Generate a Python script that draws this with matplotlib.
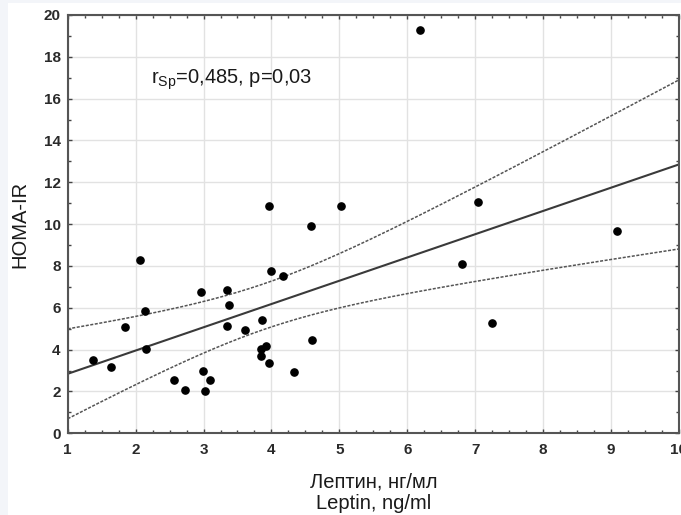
import numpy as np
import matplotlib.pyplot as plt
from matplotlib.patches import Rectangle
from matplotlib.ticker import MultipleLocator

plt.rcParams['font.family'] = ['Liberation Sans', 'DejaVu Sans']

# leptin (ng/ml) and HOMA-IR per patient
leptin = [1.37, 1.645, 1.85, 2.06, 2.14, 2.15, 2.56, 2.73, 2.97, 2.99, 3.02,
          3.10, 3.34, 3.38, 3.34, 3.61, 3.86, 3.85, 3.92, 3.85, 3.96, 3.99,
          4.17, 4.33, 4.59, 3.97, 4.58, 5.02, 6.18, 7.04, 9.09, 6.80, 7.25]
homa = [3.49, 3.16, 5.09, 8.28, 5.85, 4.02, 2.56, 2.07, 6.75, 2.98, 2.01,
        2.55, 6.87, 6.12, 5.13, 4.96, 5.41, 4.05, 4.16, 3.70, 3.36, 7.78,
        7.53, 2.92, 4.45, 10.89, 9.93, 10.85, 19.30, 11.05, 9.65, 8.10, 5.29]

x_ticks = list(range(1, 11))
y_ticks = list(range(0, 21, 2))

x = np.array(leptin)
y = np.array(homa)
n = len(x)

# least-squares line with 95% confidence band for the mean
slope, icpt = np.polyfit(x, y, 1)
resid = y - (icpt + slope * x)
s = np.sqrt(np.sum(resid ** 2) / (n - 2))
t95 = 2.04
xx = np.linspace(1, 10, 200)
fit = icpt + slope * xx
se = s * np.sqrt(1 / n + (xx - x.mean()) ** 2 / np.sum((x - x.mean()) ** 2))

fig = plt.figure(figsize=(6.81, 5.15), dpi=100)
fig.patch.set_facecolor('#f3f5f9')
fig.patches.append(Rectangle((8 / 681, 0), 1, 1 - 3 / 515, transform=fig.transFigure,
                             facecolor='white', edgecolor='none', zorder=-5))
ax = fig.add_axes([0.0994, 0.1586, 0.8976, 0.8124])

ax.grid(True, color='#e2e2e2', lw=1)
ax.set_axisbelow(True)

ax.plot(xx, fit, color='#3a3a3a', lw=1.5)
ax.plot(xx, fit + t95 * se, color='#555555', lw=1.1, ls=(0, (2, 1)))
ax.plot(xx, fit - t95 * se, color='#555555', lw=1.1, ls=(0, (2, 1)))
ax.plot(x, y, 'o', color='black', ms=5.2, zorder=3)

ax.set_xlim(1, 10)
ax.set_ylim(0, 20)
ax.set_xticks(x_ticks)
ax.set_yticks(y_ticks)
ax.xaxis.set_minor_locator(MultipleLocator(0.25))
ax.yaxis.set_minor_locator(MultipleLocator(1))
ax.tick_params(which='both', direction='in', top=True, right=True,
               color='#444444', labelsize=11, labelcolor='#2a2a2a')
ax.tick_params(which='major', length=3, width=1)
ax.tick_params(which='minor', length=2.5, width=1)
ax.tick_params(axis='x', pad=7)
ax.tick_params(axis='y', pad=5)
for lbl in ax.get_xticklabels() + ax.get_yticklabels():
    lbl.set_fontweight('bold')
for sp in ax.spines.values():
    sp.set_color('#555555')
    sp.set_linewidth(1.5)

ax.text(2.23, 16.9, r'r$_{\mathregular{Sp}}$=0,485, p=0,03', fontsize=14.5,
        color='#1a1a1a', va='center')

ax.set_xlabel('Лептин, нг/мл\nLeptin, ng/ml', fontsize=14.5, color='#1a1a1a',
              linespacing=1.2, labelpad=11)
ax.set_ylabel('HOMA-IR', fontsize=14.5, color='#1a1a1a', labelpad=10)

fig.savefig('out.png', dpi=100, facecolor=fig.get_facecolor())
